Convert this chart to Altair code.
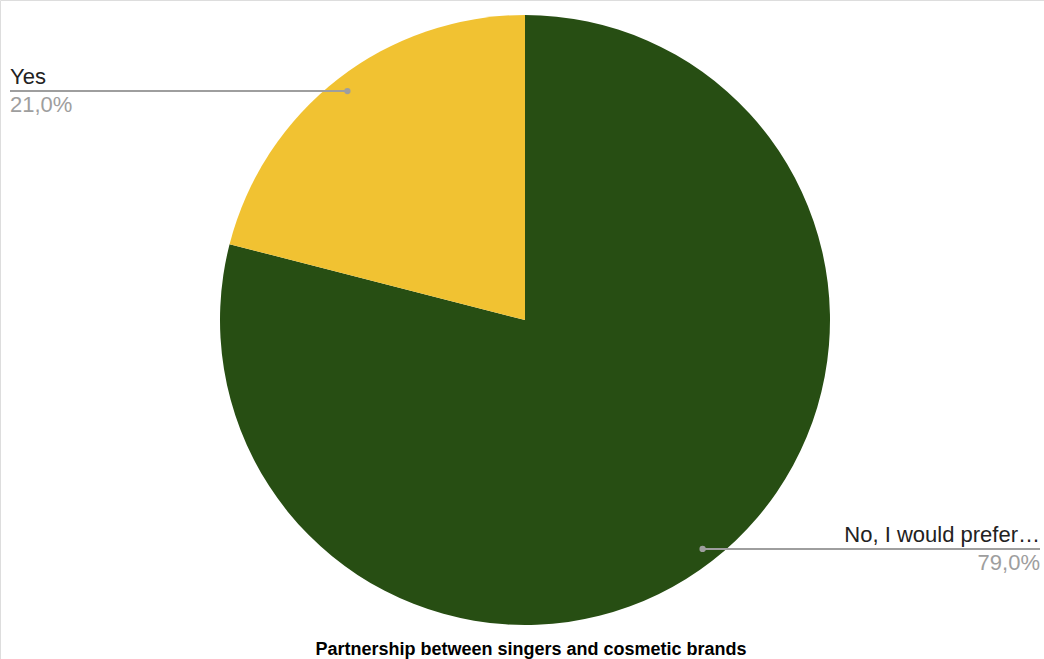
import math
import altair as alt
import pandas as pd

categories = ["No, I would prefer…", "Yes"]
values = [79.0, 21.0]
colors = ["#274e13", "#f1c232"]
chart_title = "Partnership between singers and cosmetic brands"

# layout
W, H = 1044, 659
CX, CY, R = 525, 320, 305
DOT_R = 0.95 * R

total = sum(values)
rows = []
cum = 0.0
for i, (c, v) in enumerate(zip(categories, values)):
    frac = v / total
    mid = (cum + frac / 2) * 2 * math.pi
    cum += frac
    px = CX + DOT_R * math.sin(mid)
    py = CY - DOT_R * math.cos(mid)
    side = "right" if px > CX else "left"
    rows.append({
        "cat": c, "value": v, "idx": i,
        "pct": f"{v:.1f}".replace(".", ",") + "%",
        "px": px, "py": py, "side": side,
        "lx": (W - 4) if side == "right" else 10,
    })
df = pd.DataFrame(rows)

base = alt.Chart(df)

pie = base.mark_arc(radius=R, stroke=None).encode(
    theta=alt.Theta("value:Q", stack=True),
    order=alt.Order("idx:Q"),
    color=alt.Color("cat:N", scale=alt.Scale(domain=categories, range=colors), legend=None),
    x=alt.value(CX),
    y=alt.value(CY),
)

lines = base.mark_rule(color="#9e9e9e", strokeWidth=2).encode(
    x=alt.X("px:Q", scale=None),
    x2="lx:Q",
    y=alt.Y("py:Q", scale=None),
)

dots = base.mark_circle(color="#9e9e9e", opacity=1, size=40).encode(
    x=alt.X("px:Q", scale=None),
    y=alt.Y("py:Q", scale=None),
)

font = "Liberation Sans"
layers = [pie, lines, dots]
for side, align in (("left", "left"), ("right", "right")):
    sub = base.transform_filter(alt.datum.side == side)
    layers.append(sub.mark_text(align=align, baseline="alphabetic", dy=-7, font=font,
                                fontSize=22, color="#222222").encode(
        x=alt.X("lx:Q", scale=None), y=alt.Y("py:Q", scale=None), text="cat:N"))
    layers.append(sub.mark_text(align=align, baseline="alphabetic", dy=21, font=font,
                                fontSize=22, color="#9e9e9e").encode(
        x=alt.X("lx:Q", scale=None), y=alt.Y("py:Q", scale=None), text="pct:N"))

title_df = pd.DataFrame({"t": [chart_title]})
title = alt.Chart(title_df).mark_text(align="center", baseline="alphabetic", font=font,
                                      fontSize=18, fontWeight="bold", color="#000000").encode(
    x=alt.value(531), y=alt.value(655), text="t:N")
layers.append(title)

chart = alt.layer(*layers).properties(
    width=W, height=H, padding=0,
    autosize=alt.AutoSizeParams(type="none"),
).configure_view(stroke=None).configure(background="white")

chart.save("out.html", embed_options={"renderer": "svg", "actions": False})
